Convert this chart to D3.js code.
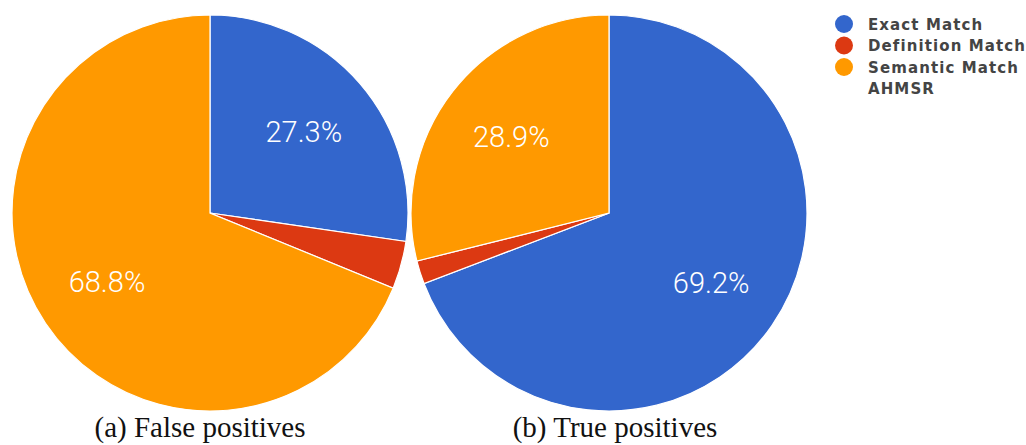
<!DOCTYPE html>
<html>
<head>
<meta charset="utf-8">
<script src="https://cdn.jsdelivr.net/npm/d3@7"></script>
<style>
  body { margin: 0; background: #fff; }
</style>
</head>
<body>
<svg id="chart_svg" width="1026" height="445"></svg>
<script>
// data
var categories = ["Exact Match", "Definition Match", "Semantic Match"]
var falsePos = [27.3, 3.9, 68.8]
var truePos = [69.2, 1.9, 28.9]
var captions = ["(a) False positives", "(b) True positives"]
var legendExtra = "AHMSR"
var colors = ["#3366cc", "#dc3912", "#ff9900"]

var svg = d3.select("#chart_svg")
var radius = 198
var cy = 213
var pies = [
  { values: falsePos, cx: 210, caption: captions[0], capx: 200 },
  { values: truePos, cx: 609, caption: captions[1], capx: 615 }
]

var pieGen = d3.pie().sort(null).value(d => d)
var arcGen = d3.arc().innerRadius(0).outerRadius(radius)
var labelRadius = 124

pies.forEach(function(p) {
  var g = svg.append("g").attr("transform", `translate(${p.cx},${cy})`)
  var arcs = pieGen(p.values)

  g.selectAll(".slice")
    .data(arcs)
    .join("path")
    .attr("class", "slice")
    .attr("d", arcGen)
    .attr("fill", (d, i) => colors[i])
    .attr("stroke", "#fff")
    .attr("stroke-width", 1.2)

  // only the bigger slices get a label
  g.selectAll(".pct")
    .data(arcs.filter(d => d.value > 10))
    .join("text")
    .attr("class", "pct")
    .attr("x", d => Math.sin((d.startAngle + d.endAngle) / 2) * labelRadius)
    .attr("y", d => -Math.cos((d.startAngle + d.endAngle) / 2) * labelRadius + 10)
    .attr("text-anchor", "middle")
    .attr("fill", "#fff")
    .style("font-family", "Roboto, Arial, sans-serif")
    .style("font-weight", "300")
    .style("font-size", "29px")
    .text(d => d.value.toFixed(1) + "%")

  svg.append("text")
    .attr("x", p.capx)
    .attr("y", 437)
    .attr("text-anchor", "middle")
    .attr("fill", "#111")
    .style("font-family", "'Liberation Serif', 'Times New Roman', serif")
    .style("font-size", "29px")
    .text(p.caption)
})

// legend
var legend = svg.append("g")
var rowY = d3.scaleLinear().domain([0, 1]).range([24, 45.5])

legend.selectAll("circle")
  .data(categories)
  .join("circle")
  .attr("cx", 844)
  .attr("cy", (d, i) => rowY(i))
  .attr("r", 9)
  .attr("fill", (d, i) => colors[i])

legend.selectAll("text")
  .data(categories.concat([legendExtra]))
  .join("text")
  .attr("x", 868)
  .attr("y", (d, i) => rowY(i) + 5.5)
  .attr("fill", "#444")
  .style("font-family", "'DejaVu Sans', Arial, sans-serif")
  .style("font-size", "15px")
  .style("font-weight", "bold")
  .style("letter-spacing", "1.1px")
  .text(d => d)
</script>
</body>
</html>
